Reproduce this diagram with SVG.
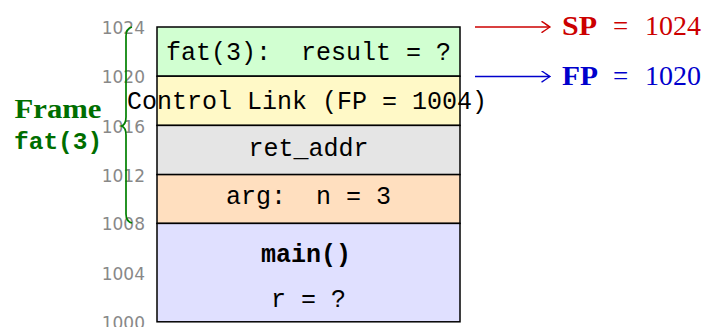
<svg xmlns="http://www.w3.org/2000/svg" width="708" height="327" viewBox="0 0 708 327">
  <defs>
    <style>
      .cell { stroke: #000; stroke-width: 1.5; }
      .mono { font-family: "Liberation Mono", "DejaVu Sans Mono", monospace; font-size: 25px; fill: #000; text-anchor: middle; white-space: pre; }
      .addr { font-family: "DejaVu Sans", sans-serif; font-size: 17px; fill: #888; text-anchor: end; }
      .serif { font-family: "Liberation Serif", "DejaVu Serif", serif; font-size: 27px; }
      .brace { fill: none; stroke: #008000; stroke-width: 1.7; }
      .ptr { fill: none; stroke-width: 1.5; }
    </style>
    <marker id="head-red" viewBox="-9 -6 10 12" refX="0" refY="0" markerWidth="10" markerHeight="12" markerUnits="userSpaceOnUse" orient="auto">
      <path d="M-8,-5.3 Q-2,-1.2 0,0 Q-2,1.2 -8,5.3" fill="none" stroke="#cc0000" stroke-width="1.4" stroke-linecap="round"/>
    </marker>
    <marker id="head-blue" viewBox="-9 -6 10 12" refX="0" refY="0" markerWidth="10" markerHeight="12" markerUnits="userSpaceOnUse" orient="auto">
      <path d="M-8,-5.3 Q-2,-1.2 0,0 Q-2,1.2 -8,5.3" fill="none" stroke="#0000cc" stroke-width="1.4" stroke-linecap="round"/>
    </marker>
  </defs>

  <!-- address scale -->
  <g id="addresses">
    <text class="addr" x="145" y="34">1024</text>
    <text class="addr" x="145" y="83">1020</text>
    <text class="addr" x="145" y="132.5">1016</text>
    <text class="addr" x="145" y="181.5">1012</text>
    <text class="addr" x="145" y="230">1008</text>
    <text class="addr" x="145" y="279.5">1004</text>
    <text class="addr" x="145" y="329">1000</text>
  </g>

  <!-- frame brace and label -->
  <g id="frame-brace">
    <path class="brace" d="M132,27 Q126,28.5 126,36 L126,117 Q126,124.5 121.5,126 Q126,127.5 126,135 L126,214 Q126,221.5 132,223"/>
    <text x="14.5" y="118" class="serif" font-weight="bold" fill="#006e00" textLength="87" lengthAdjust="spacingAndGlyphs">Frame</text>
    <text x="14" y="148.5" font-family="Liberation Mono, DejaVu Sans Mono, monospace" font-size="24.5" font-weight="bold" fill="#006e00">fat(3)</text>
  </g>

  <!-- stack cells -->
  <g id="cell-result">
    <rect class="cell" x="157" y="27" width="303" height="49.2" fill="#d1ffd1"/>
    <text class="mono" x="308.5" y="60" xml:space="preserve">fat(3):  result = ?</text>
  </g>
  <g id="cell-control-link">
    <rect class="cell" x="157" y="76.2" width="303" height="49.2" fill="#fff9c7"/>
  </g>
  <g id="cell-ret-addr">
    <rect class="cell" x="157" y="125.4" width="303" height="49.2" fill="#e5e5e5"/>
    <text class="mono" x="308.5" y="155.7">ret_addr</text>
  </g>
  <g id="cell-arg">
    <rect class="cell" x="157" y="174.6" width="303" height="48.8" fill="#ffdfbf"/>
    <text class="mono" x="308.5" y="204.3" xml:space="preserve">arg:  n = 3</text>
  </g>
  <g id="cell-main">
    <rect class="cell" x="157" y="223.4" width="303" height="98.4" fill="#e0e0ff"/>
    <text class="mono" x="306" y="261.5" font-weight="bold">main()</text>
    <text class="mono" x="308.5" y="306.5">r = ?</text>
  </g>
  <text class="mono" x="307" y="109.3">Control Link (FP = 1004)</text>

  <!-- pointer arrows -->
  <g id="connectors">
    <line class="ptr" x1="475" y1="27" x2="550" y2="27" stroke="#cc0000" marker-end="url(#head-red)"/>
    <line class="ptr" x1="475" y1="76.5" x2="550" y2="76.5" stroke="#0000cc" marker-end="url(#head-blue)"/>
  </g>

  <!-- register labels -->
  <g id="sp-label" fill="#cc0000">
    <text class="serif" x="562" y="35" font-weight="bold" textLength="35" lengthAdjust="spacingAndGlyphs">SP</text>
    <text class="serif" x="613" y="35">=</text>
    <text class="serif" x="645" y="35" textLength="56" lengthAdjust="spacingAndGlyphs">1024</text>
  </g>
  <g id="fp-label" fill="#0000cc">
    <text class="serif" x="562" y="85" font-weight="bold" textLength="36" lengthAdjust="spacingAndGlyphs">FP</text>
    <text class="serif" x="613" y="85">=</text>
    <text class="serif" x="645" y="85" textLength="56" lengthAdjust="spacingAndGlyphs">1020</text>
  </g>
</svg>
